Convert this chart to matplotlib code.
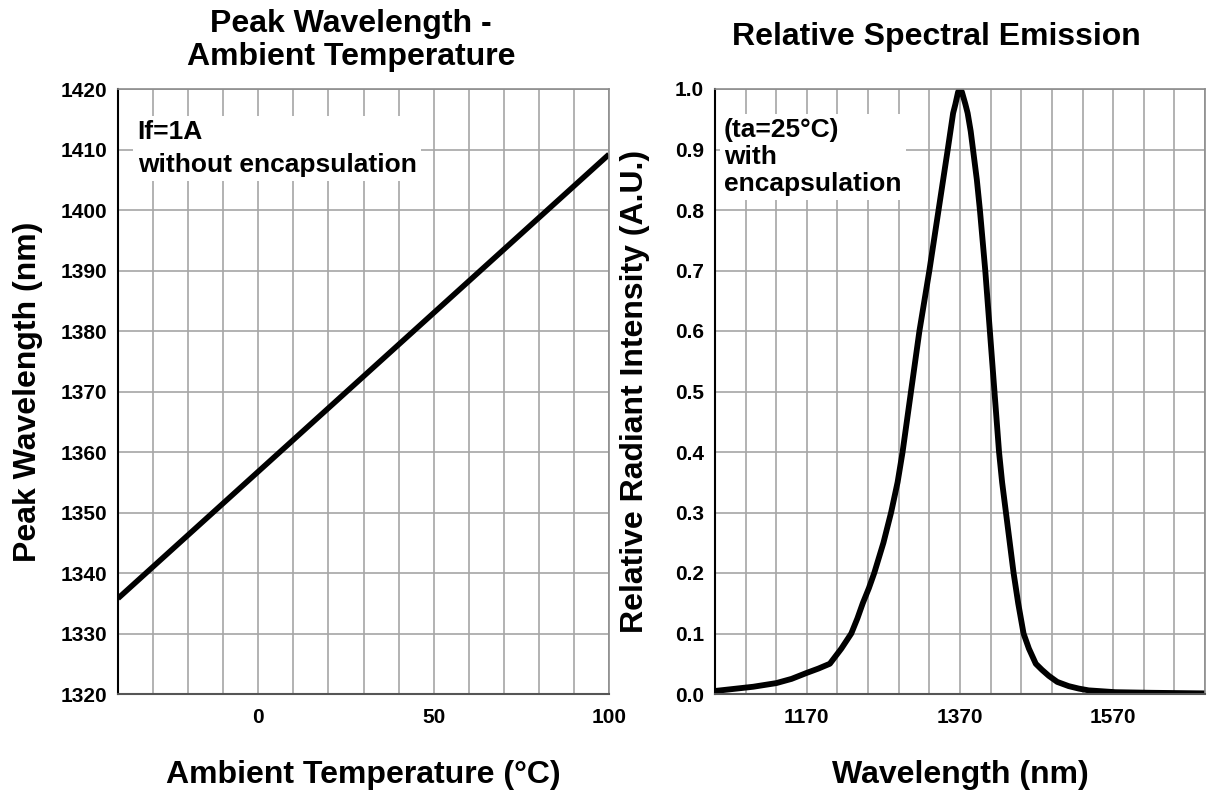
import matplotlib
matplotlib.use("Agg")
import matplotlib.pyplot as plt
import numpy as np

plt.rcParams['font.family'] = ['Liberation Sans', 'DejaVu Sans']
plt.rcParams['font.weight'] = 'bold'
plt.rcParams['axes.labelweight'] = 'bold'

# peak wavelength vs ambient temperature (straight line, read at the ends)
temp = [-40, 100]
peak_wl = [1335.8, 1409.2]

# relative spectral emission
wavelength = [1050, 1100, 1130, 1150, 1170, 1185, 1200, 1215, 1228, 1236,
              1243, 1251, 1258, 1270, 1280, 1288.5, 1295, 1300.5, 1306, 1311.5,
              1317, 1323.5, 1330, 1336, 1342, 1348, 1354, 1361, 1364, 1367.5,
              1370, 1372.5, 1377, 1380, 1384, 1387, 1392, 1396, 1403, 1406,
              1409, 1412, 1415, 1418, 1421, 1425, 1430, 1435, 1440, 1446,
              1453, 1460, 1469, 1477, 1486, 1497, 1512, 1525, 1538, 1573,
              1620, 1690]
intensity = [0.005, 0.012, 0.018, 0.025, 0.035, 0.042, 0.05, 0.075, 0.1, 0.125,
             0.15, 0.175, 0.2, 0.25, 0.3, 0.35, 0.4, 0.45, 0.5, 0.55,
             0.6, 0.65, 0.7, 0.75, 0.8, 0.85, 0.9, 0.96, 0.975, 0.995,
             1.0, 0.995, 0.975, 0.96, 0.93, 0.9, 0.85, 0.8, 0.7, 0.65,
             0.6, 0.55, 0.5, 0.45, 0.4, 0.35, 0.3, 0.25, 0.2, 0.15,
             0.1, 0.075, 0.05, 0.04, 0.03, 0.02, 0.013, 0.009, 0.006, 0.003,
             0.002, 0.001]

left_xticks = np.arange(-40, 101, 10)
left_xlabels = [0, 50, 100]
left_yticks = np.arange(1320, 1421, 10)
right_xticks = np.arange(1050, 1691, 40)
right_xlabels = [1170, 1370, 1570]
right_yticks = np.round(np.arange(0, 1.01, 0.1), 1)

W, H = 1211, 793
fig = plt.figure(figsize=(W / 100, H / 100), dpi=100)
ax1 = fig.add_axes([118 / W, 1 - 694 / H, 491 / W, 605 / H])
ax2 = fig.add_axes([715 / W, 1 - 694 / H, 490 / W, 605 / H])


def style(ax):
    ax.grid(True, color="#a6a6a6", linewidth=1.2)
    ax.set_axisbelow(True)
    ax.tick_params(length=0, labelsize=15)
    ax.tick_params(axis="x", pad=10)
    ax.tick_params(axis="y", pad=8)
    for s in ["top", "right"]:
        ax.spines[s].set_color("#8c8c8c")
        ax.spines[s].set_linewidth(1.2)
    ax.spines["left"].set_color("black")
    ax.spines["left"].set_linewidth(1.5)
    ax.spines["bottom"].set_color("#555555")
    ax.spines["bottom"].set_linewidth(1.5)


# left chart
ax1.plot(temp, peak_wl, color="black", linewidth=4.0, solid_capstyle="butt")
ax1.set_xlim(-40, 100)
ax1.set_ylim(1320, 1420)
ax1.set_xticks(left_xticks)
ax1.set_xticklabels([str(t) if t in left_xlabels else "" for t in left_xticks])
ax1.set_yticks(left_yticks)
style(ax1)
ax1.set_xlabel("Ambient Temperature (°C)", fontsize=23, labelpad=24)
ax1.set_ylabel("Peak Wavelength (nm)", fontsize=23, labelpad=12)
ax1.text(0.475, 1.08, "Peak Wavelength -\nAmbient Temperature", transform=ax1.transAxes,
         ha="center", va="center", fontsize=23, linespacing=1.15)
ax1.text(0.04, 0.948, "If=1A\nwithout encapsulation", transform=ax1.transAxes,
         ha="left", va="top", fontsize=19, linespacing=1.45,
         bbox=dict(facecolor="white", edgecolor="none", pad=3))

# right chart
ax2.plot(wavelength, intensity, color="black", linewidth=4.2,
         solid_joinstyle="round", solid_capstyle="butt")
ax2.set_xlim(1050, 1690)
ax2.set_ylim(0, 1.0)
ax2.set_xticks(right_xticks)
ax2.set_xticklabels([str(w) if w in right_xlabels else "" for w in right_xticks])
ax2.set_yticks(right_yticks)
ax2.set_yticklabels(["%.1f" % v for v in right_yticks])
style(ax2)
ax2.set_xlabel("Wavelength (nm)", fontsize=23, labelpad=24)
ax2.set_ylabel("Relative Radiant Intensity (A.U.)", fontsize=23, labelpad=18)
ax2.text(0.451, 1.086, "Relative Spectral Emission", transform=ax2.transAxes,
         ha="center", va="center", fontsize=23)
ax2.text(0.018, 0.952, "(ta=25°C)\nwith\nencapsulation", transform=ax2.transAxes,
         ha="left", va="top", fontsize=19, linespacing=1.15,
         bbox=dict(facecolor="white", edgecolor="none", pad=3))

fig.savefig("out.png", dpi=100)
